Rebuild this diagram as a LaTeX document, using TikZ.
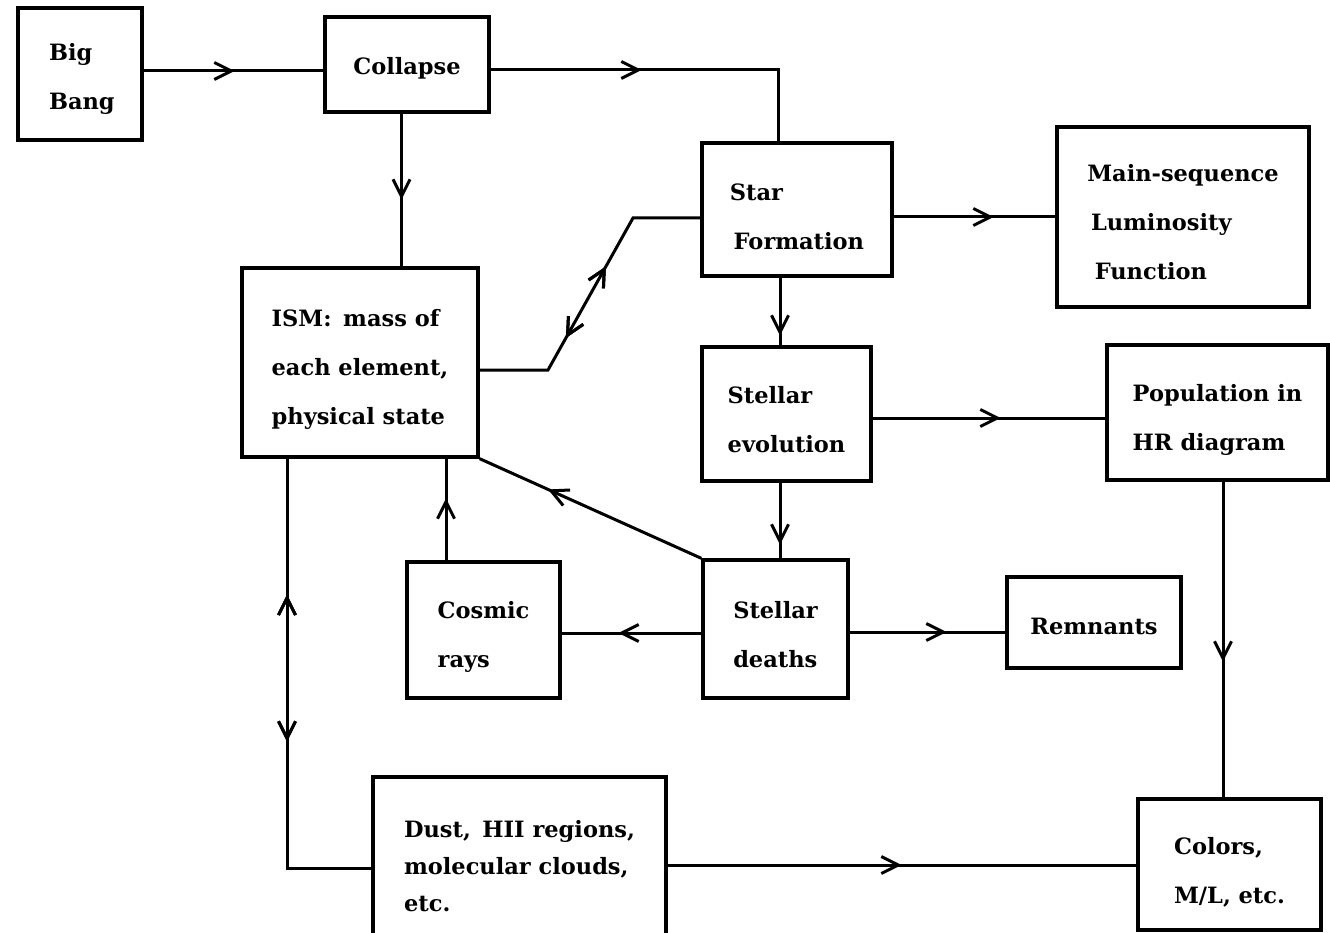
\documentclass[tikz,border=0pt]{standalone}
\usepackage{fontspec}
\setmainfont{DejaVu Serif}
\usetikzlibrary{arrows.meta,decorations.markings}
\newcommand\tstrut[1]{\rule{0pt}{#1}}
\tikzset{
  box/.style={draw, line width=3.4pt, inner sep=0pt, align=left,
    font=\fontsize{22.5}{49}\selectfont\bfseries},
  conn/.style={line width=3pt},
  ahead/.tip={Straight Barb[length=17pt,width=17pt,line width=3pt]},
  fwd/.style={postaction={decorate}, decoration={markings,
    mark=at position #1 with {\arrow{ahead}}}},
  bwd/.style={postaction={decorate}, decoration={markings,
    mark=at position #1 with {\arrowreversed{ahead}}}},
}
\begin{document}
\begin{tikzpicture}[x=1pt,y=-1pt]
\useasboundingbox[fill=white] (0,0) rectangle (1330,933);
% boxes
\node[box, minimum width=124pt, minimum height=132pt] (bb) at (80,74) {\tstrut{28pt}\,Big\\\,Bang};
\node[box, minimum width=164pt, minimum height=95pt] (col) at (407,64.5) {\tstrut{24pt}Collapse};
\node[box, minimum width=190pt, minimum height=133pt] (sf) at (797,209.5) {\tstrut{32pt}Star\\\,Formation};
\node[box, minimum width=252pt, minimum height=180pt] (ms) at (1183,217) {\tstrut{28pt}Main-sequence\\\,Luminosity\\\,\,Function};
\node[box, minimum width=236pt, minimum height=189pt] (ism) at (360,362.5) {\tstrut{30pt}ISM:\, mass of\\each element,\\physical state};
\node[box, minimum width=169pt, minimum height=134pt] (se) at (786.5,414) {\tstrut{28pt}Stellar\\evolution};
\node[box, minimum width=221pt, minimum height=135pt] (pop) at (1217.5,412.5) {\tstrut{32pt}Population in\\HR diagram};
\node[box, minimum width=153pt, minimum height=136pt] (cr) at (483.5,630) {\tstrut{30pt}Cosmic\\rays};
\node[box, minimum width=145pt, minimum height=138pt] (sd) at (775.5,629) {\tstrut{28pt}Stellar\\deaths};
\node[box, minimum width=174pt, minimum height=91pt] (rem) at (1094,622.5) {\tstrut{24pt}Remnants};
\node[box, minimum width=293pt, minimum height=168pt, font=\fontsize{22.5}{37}\selectfont\bfseries] (dust) at (519.5,861) {\tstrut{28pt}Dust,\, HII regions,\\molecular clouds,\\etc.};
\node[box, minimum width=183pt, minimum height=131pt] (clr) at (1229.5,864.5) {\tstrut{32pt}Colors,\\M/L, etc.};
% bend points of the ISM -- star formation link
\coordinate (k1) at (548,370);
\coordinate (k2) at (633,218);
% connectors
\draw[conn, fwd=91pt] ([yshift=3pt]bb.east) -- ([yshift=3pt]bb.east -| col.west);
\draw[conn, fwd=151pt] ([yshift=-5.5pt]col.east) -| ([xshift=-19pt]sf.north);
\draw[conn, fwd=86pt] ([xshift=-5.5pt]col.south) -- ([xshift=-5.5pt]col.south |- ism.north);
\draw[conn, fwd=100pt] ([yshift=-7.5pt]sf.east) -- ([yshift=-7.5pt]sf.east -| ms.west);
\draw[conn, fwd=187pt, bwd=105pt] ([yshift=-7.5pt]ism.east) -- (k1) -- (k2) -- ([yshift=-8.5pt]sf.west);
\draw[conn, fwd=58pt] ([xshift=-17pt]sf.south) -- ([xshift=-17pt]sf.south |- se.north);
\draw[conn, fwd=128pt] ([yshift=-4pt]se.east) -- ([yshift=-4pt]se.east -| pop.west);
\draw[conn, fwd=62pt] ([xshift=-6.5pt]se.south) -- ([xshift=-6.5pt]se.south |- sd.north);
\draw[conn, fwd=168pt] (sd.north west) -- (ism.south east);
\draw[conn, fwd=83pt] ([yshift=-4pt]sd.west) -- ([yshift=-4pt]sd.west -| cr.east);
\draw[conn, fwd=97pt] ([yshift=-3pt]sd.east) -- ([yshift=-3pt]sd.east -| rem.west);
\draw[conn, fwd=62pt] ([xshift=-37.5pt]cr.north) -- ([xshift=-37.5pt]cr.north |- ism.south);
\draw[conn, bwd=136pt, fwd=283pt] ([xshift=-73pt]ism.south) |- ([yshift=-7pt]dust.west);
\draw[conn, fwd=234pt] ([yshift=-4pt]dust.east) -- ([yshift=-4pt]dust.east -| clr.west);
\draw[conn, fwd=180pt] ([xshift=5.5pt]pop.south) -- ([xshift=5.5pt]pop.south |- clr.north);
\end{tikzpicture}
\end{document}
